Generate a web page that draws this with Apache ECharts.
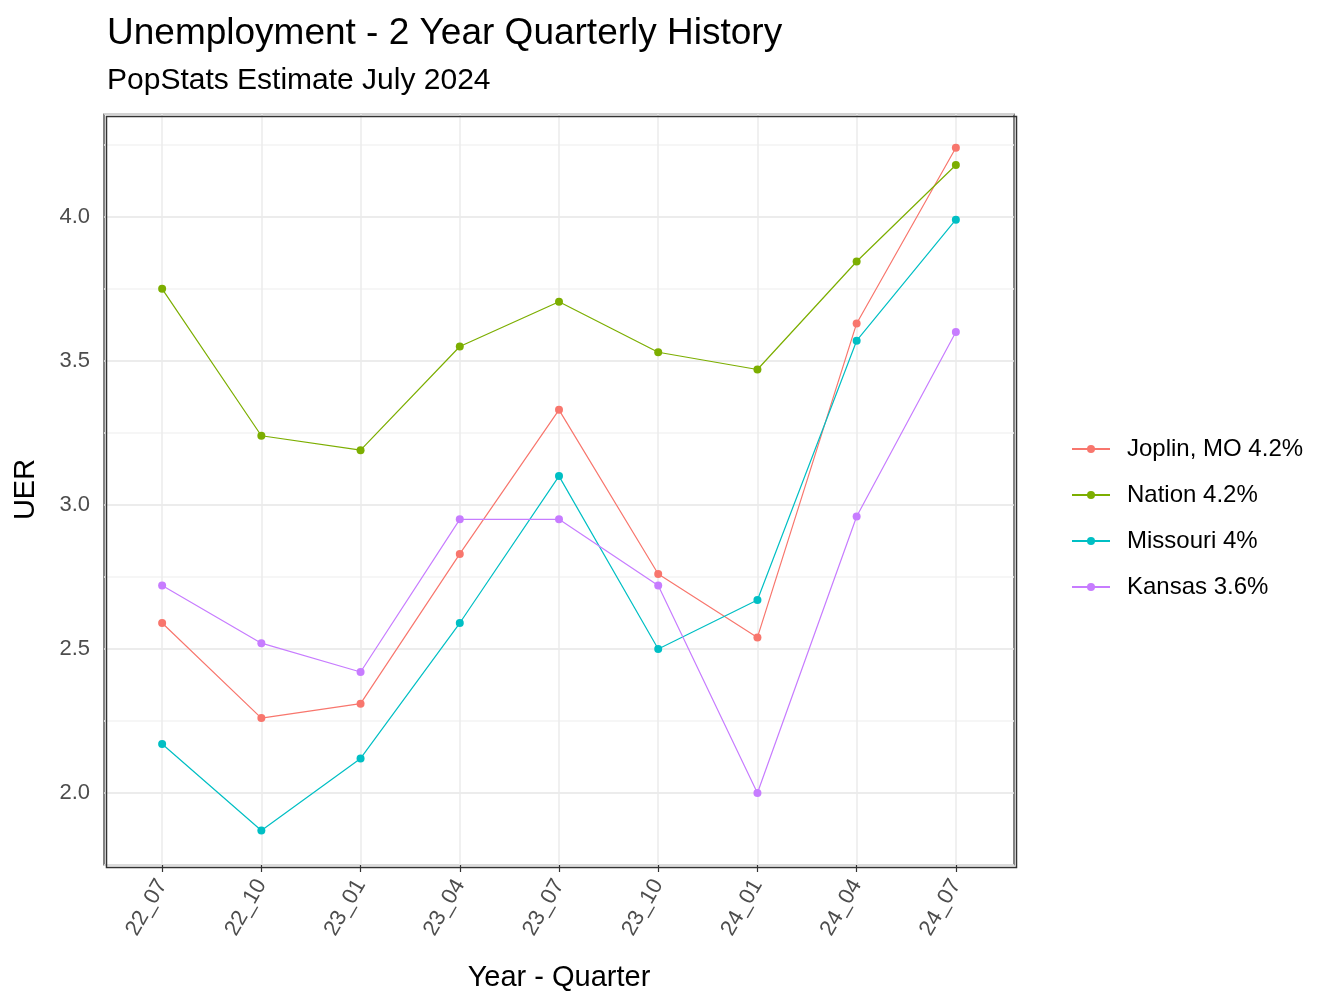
<!DOCTYPE html>
<html><head><meta charset="utf-8">
<script src="https://cdn.jsdelivr.net/npm/echarts@6/dist/echarts.min.js"></script>
<style>body{margin:0}#c{width:1344px;height:1008px}</style></head>
<body><div id="c"></div>
<script>
const quarters = ['22_07','22_10','23_01','23_04','23_07','23_10','24_01','24_04','24_07'];
const seriesNames = ['Joplin, MO 4.2%','Nation 4.2%','Missouri 4%','Kansas 3.6%'];
const joplin = [2.59,2.26,2.31,2.83,3.33,2.76,2.54,3.63,4.24];
const nation = [3.75,3.24,3.19,3.55,3.705,3.53,3.47,3.845,4.18];
const missouri = [2.17,1.87,2.12,2.59,3.10,2.50,2.67,3.57,3.99];
const kansas = [2.72,2.52,2.42,2.95,2.95,2.72,2.00,2.96,3.60];
const colors = ['#F8766D','#7CAE00','#00BFC4','#C77CFF'];

const idx = quarters.map((q, i) => i);
const all = [joplin, nation, missouri, kansas];

const series = all.map((vals, k) => ({
  name: seriesNames[k],
  type: 'line',
  data: vals.map((v, i) => [i, v]),
  symbol: 'circle',
  symbolSize: 8,
  lineStyle: {width: 1.2, color: colors[k]},
  itemStyle: {color: colors[k]},
  z: 3
}));
// vertical grid lines at each quarter
series[0].markLine = {
  silent: true, symbol: 'none', label: {show: false}, z: 1,
  lineStyle: {color: '#ebebeb', width: 1.5, type: 'solid'},
  data: idx.map(i => ({xAxis: i}))
};

const chart = echarts.init(document.getElementById('c'));
chart.setOption({
  animation: false,
  textStyle: {fontFamily: 'Arial, Liberation Sans'},
  title: {
    text: 'Unemployment - 2 Year Quarterly History',
    subtext: 'PopStats Estimate July 2024',
    left: 102, top: 10,
    textStyle: {fontSize: 37, fontWeight: 'normal', color: '#000'},
    subtextStyle: {fontSize: 30, color: '#000'},
    itemGap: 14
  },
  legend: {
    orient: 'vertical', left: 1066, top: 432, itemGap: 22,
    itemWidth: 38, itemHeight: 10,
    textStyle: {fontSize: 24, color: '#000', padding: [0, 0, 0, 12]},
    data: seriesNames
  },
  grid: {left: 104, right: 330, top: 114, bottom: 143, show: true,
         borderColor: '#333', borderWidth: 1.2, backgroundColor: '#fff'},
  graphic: [{type: 'rect', left: 104, top: 114, z: 100, silent: true,
             shape: {width: 910, height: 751},
             style: {fill: 'none', stroke: '#333', lineWidth: 1.5}}],
  xAxis: {
    type: 'value', min: -0.586, max: 8.586,
    name: 'Year - Quarter', nameLocation: 'middle', nameGap: 98,
    nameTextStyle: {fontSize: 29, color: '#000'},
    axisLine: {show: false},
    splitLine: {show: false},
    axisTick: {show: true, customValues: idx, length: 7, lineStyle: {color: '#333', width: 1.2}},
    axisLabel: {customValues: idx, rotate: 60, fontSize: 22, color: '#4d4d4d', margin: 16,
                formatter: v => quarters[Math.round(v)]}
  },
  yAxis: {
    type: 'value', min: 1.75, max: 4.357, interval: 0.25,
    name: 'UER', nameLocation: 'middle', nameGap: 64,
    nameTextStyle: {fontSize: 29, color: '#000'},
    axisLine: {show: false},
    axisTick: {show: false},
    splitLine: {lineStyle: {color: ['#f3f3f3', '#e6e6e6'], width: 1.5}},
    axisLabel: {fontSize: 22, color: '#4d4d4d', margin: 14,
                formatter: v => (Math.abs(v * 2 - Math.round(v * 2)) < 1e-6) ? v.toFixed(1) : ''}
  },
  series: series
});
</script></body></html>
